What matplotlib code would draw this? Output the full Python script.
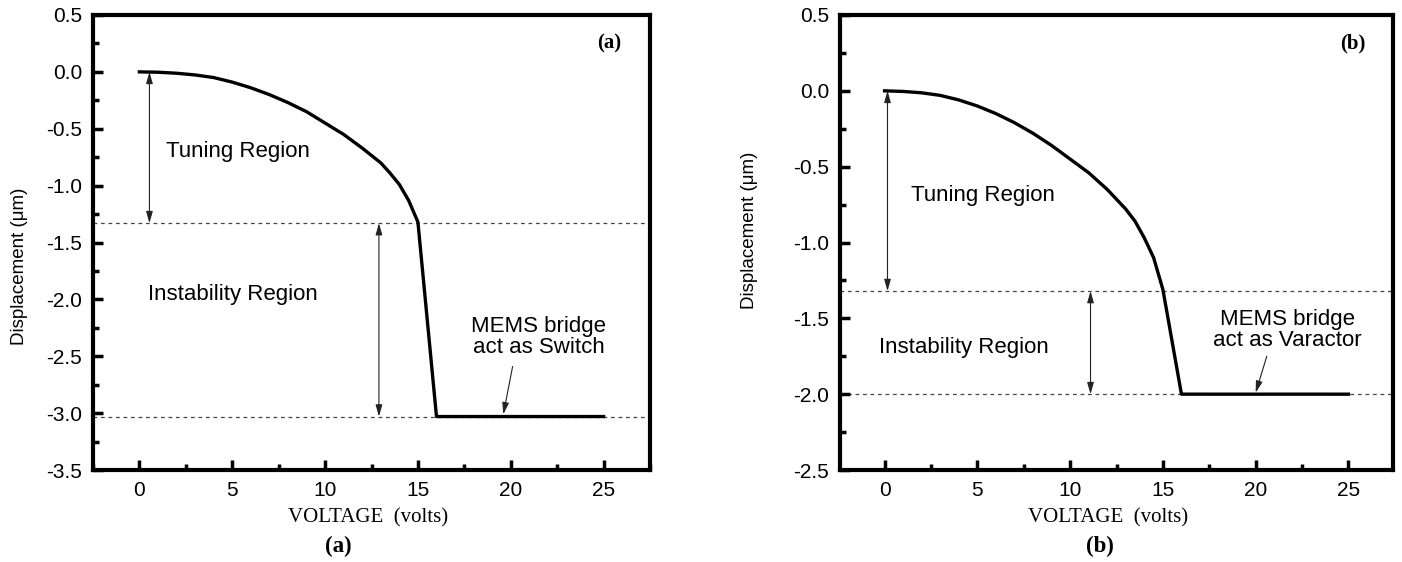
import numpy as np
import matplotlib.pyplot as plt
from matplotlib.ticker import MultipleLocator

plt.rcParams['font.family'] = ['Liberation Sans', 'DejaVu Sans']

# bridge displacement vs. applied voltage
voltage = [0, 1, 2, 3, 4, 5, 6, 7, 8, 9, 10, 11, 12, 13, 13.5, 14, 14.5, 15, 16, 25]
disp_switch = [0, -0.003, -0.012, -0.027, -0.05, -0.09, -0.14, -0.2, -0.27, -0.35,
               -0.45, -0.55, -0.67, -0.8, -0.89, -0.99, -1.13, -1.32, -3.03, -3.03]
disp_varactor = [0, -0.004, -0.013, -0.03, -0.06, -0.1, -0.15, -0.21, -0.28, -0.36,
                 -0.45, -0.54, -0.65, -0.78, -0.86, -0.97, -1.1, -1.31, -2.0, -2.0]

# pull-in level and gap level for each device
pullin_switch, gap_switch = -1.33, -3.03
pullin_varactor, gap_varactor = -1.32, -2.0

yticks_switch = [0.5, 0.0, -0.5, -1.0, -1.5, -2.0, -2.5, -3.0, -3.5]
yticks_varactor = [0.5, 0.0, -0.5, -1.0, -1.5, -2.0, -2.5]
xticks = [0, 5, 10, 15, 20, 25]

W, H = 1402, 562
fig = plt.figure(figsize=(W / 100, H / 100), dpi=100)
ax_a = fig.add_axes([93 / W, 92 / H, 557 / W, 455 / H])
ax_b = fig.add_axes([840 / W, 92 / H, 553 / W, 455 / H])


def style_axes(ax, yticks, xlim):
    ax.set_xlim(*xlim)
    ax.set_ylim(min(yticks), max(yticks))
    ax.set_yticks(yticks)
    ax.set_yticklabels(['%.1f' % t for t in yticks])
    ax.set_xticks(xticks)
    ax.xaxis.set_minor_locator(MultipleLocator(2.5))
    ax.yaxis.set_minor_locator(MultipleLocator(0.25))
    for s in ax.spines.values():
        s.set_linewidth(3)
    ax.tick_params(which='both', direction='in', top=False, right=False,
                   labelsize=15, pad=8, width=2.5)
    ax.tick_params(which='major', length=7)
    ax.tick_params(which='minor', length=4)


def draw_panel(ax, disp, pullin, gap, yticks, xlim, tag, mems_label,
               tune_x, inst_x, tune_txt, inst_txt, mems_xy, arrow_from, arrow_to):
    style_axes(ax, yticks, xlim)
    ax.axhline(pullin, color='#444444', lw=0.9, ls=(0, (3, 3)), zorder=1)
    ax.axhline(gap, color='#444444', lw=0.9, ls=(0, (3, 3)), zorder=1)
    ax.plot(voltage, disp, color='black', lw=2.4, zorder=3)

    arr = dict(arrowstyle='<|-|>,head_length=0.7,head_width=0.2', color='#222222', lw=0.8,
               shrinkA=0, shrinkB=0)
    ax.annotate('', xy=(tune_x, 0), xytext=(tune_x, pullin), arrowprops=arr)
    ax.annotate('', xy=(inst_x, pullin), xytext=(inst_x, gap), arrowprops=arr)

    ax.text(tune_txt[0], tune_txt[1], 'Tuning Region', fontsize=16, va='center')
    ax.text(inst_txt[0], inst_txt[1], 'Instability Region', fontsize=16, va='center')
    ax.text(mems_xy[0], mems_xy[1], 'MEMS bridge\n' + mems_label, fontsize=16,
            ha='center', va='center', linespacing=1.0)
    ax.annotate('', xy=arrow_to, xytext=arrow_from,
                arrowprops=dict(arrowstyle='-|>,head_length=0.7,head_width=0.2',
                                color='#222222', lw=0.8, shrinkA=0, shrinkB=0))
    ax.text(0.927, 0.938, '(%s)' % tag, transform=ax.transAxes, fontsize=15,
            fontweight='bold', family='Liberation Serif', ha='center', va='center')


draw_panel(ax_a, disp_switch, pullin_switch, gap_switch, yticks_switch, (-2.5, 27.5), 'a',
           'act as Switch', 0.54, 12.9, (1.44, -0.70), (0.45, -1.96), (21.5, -2.33),
           (20.1, -2.59), (19.6, -3.01))
draw_panel(ax_b, disp_varactor, pullin_varactor, gap_varactor, yticks_varactor, (-2.4, 27.4), 'b',
           'act as Varactor', 0.16, 11.1, (1.4, -0.69), (-0.3, -1.69), (21.7, -1.58),
           (20.6, -1.75), (20.0, -1.99))

# y labels sit a little off-centre in the original
for cx, cy in [(20, 266), (749, 230)]:
    fig.text(cx / W, 1 - cy / H, 'Displacement (\u03bcm)', fontsize=13.5, rotation=90,
             ha='center', va='center')
for cx in [368, 1108]:
    fig.text(cx / W, 1 - 518 / H, 'VOLTAGE  (volts)', fontsize=15, family='Liberation Serif',
             ha='center', va='center')
for cx, tag in [(338, 'a'), (1100, 'b')]:
    fig.text(cx / W, 1 - 546 / H, '(%s)' % tag, fontsize=16.5, fontweight='bold',
             family='Liberation Serif', ha='center', va='center')

fig.savefig('out.png', dpi=100)
